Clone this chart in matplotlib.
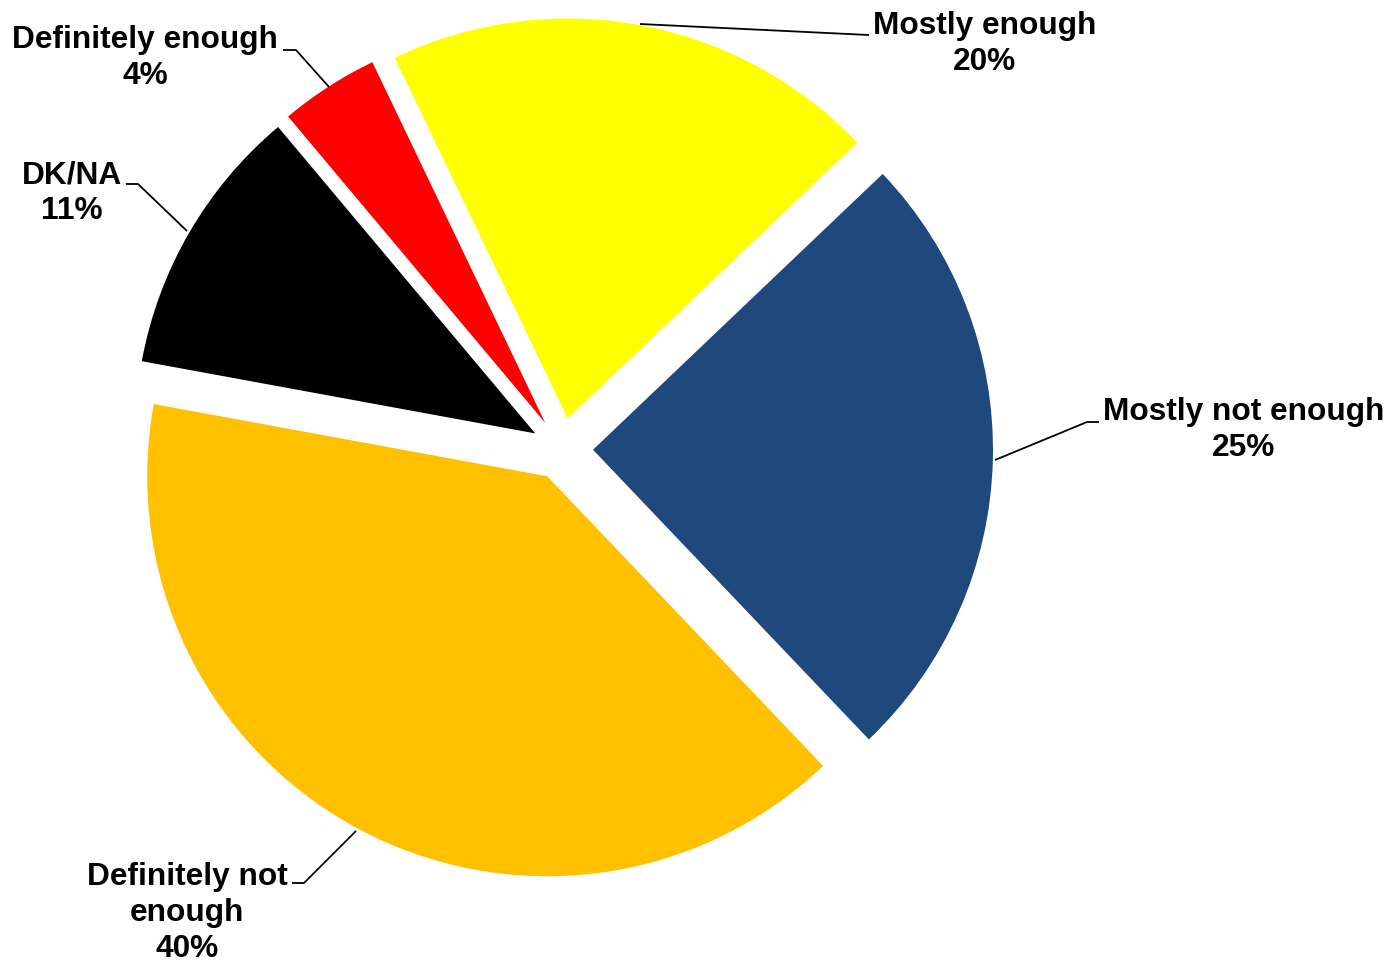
import matplotlib
matplotlib.use("Agg")
import matplotlib.pyplot as plt

# Survey answers, in drawing order (clockwise from the red wedge)
categories = ["Definitely enough", "Mostly enough", "Mostly not enough",
              "Definitely not enough", "DK/NA"]
shares = [4, 20, 25, 40, 11]
colors = ["#FF0000", "#FFFF00", "#1F497D", "#FFC000", "#000000"]

W, H = 1389, 964
fig = plt.figure(figsize=(W / 100, H / 100), dpi=100)
ax = fig.add_axes([0, 0, 1, 1])

# pixel-style coordinates: x to the right, y measured from the top
def py(y):
    return H - y

center = (562, py(449))
radius = 400
explode = [31] * len(shares)

ax.pie(shares, colors=colors, startangle=130, counterclock=False,
       radius=radius, center=center, explode=explode,
       wedgeprops=dict(linewidth=0))
ax.set_xlim(0, W)
ax.set_ylim(0, H)
ax.set_aspect("equal")
ax.axis("off")

font = dict(family=["Liberation Sans", "DejaVu Sans"], fontweight="bold",
            fontsize=22.8, color="black")

# label text anchors and leader lines (x, y from top)
label_text = {
    "Definitely enough": "Definitely enough",
    "Mostly enough": "Mostly enough",
    "Mostly not enough": "Mostly not enough",
    "Definitely not enough": "Definitely not\nenough",
    "DK/NA": "DK/NA",
}
label_pos = {
    "Definitely enough": (145, 58),
    "Mostly enough": (985, 44),
    "Mostly not enough": (1244, 430),
    "Definitely not enough": (187, 913),
    "DK/NA": (72, 193),
}
leaders = {
    "Definitely enough": [(283, 50), (296, 50), (329, 87)],
    "Mostly enough": [(640, 24), (869, 35)],
    "Mostly not enough": [(995, 460), (1087, 422), (1099, 422)],
    "Definitely not enough": [(292, 883), (304, 883), (356, 831)],
    "DK/NA": [(126, 184), (138, 184), (187, 231)],
}

for cat, val in zip(categories, shares):
    x, y = label_pos[cat]
    ax.text(x, py(y), f"{label_text[cat]}\n{val}%", ha="center", va="center",
            multialignment="center", linespacing=1.26, **font)
    pts = leaders[cat]
    ax.plot([p[0] for p in pts], [py(p[1]) for p in pts], color="black",
            lw=1.3, solid_capstyle="butt")

fig.savefig("out.png", dpi=100)
